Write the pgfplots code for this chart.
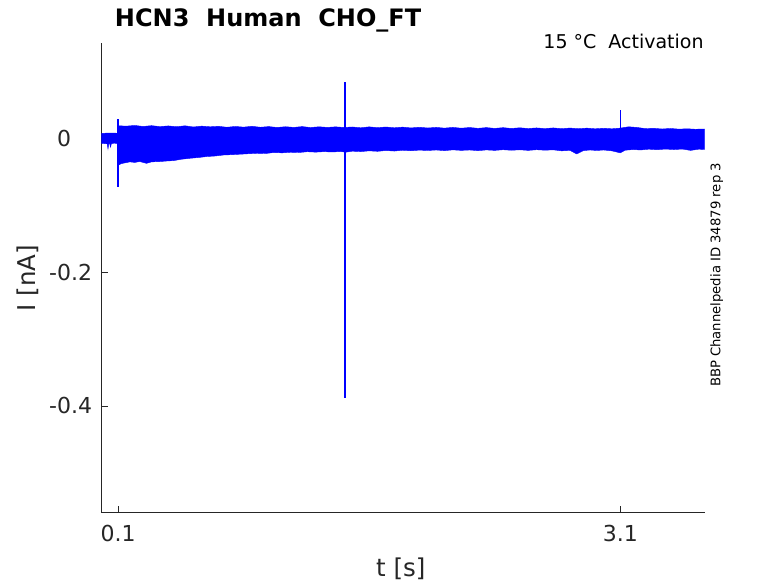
\documentclass[border=0pt]{standalone}
\usepackage{fontspec}
\setmainfont{DejaVu Sans}
\usepackage{pgfplots}
\pgfplotsset{compat=1.18}
\definecolor{axisgray}{rgb}{0.15,0.15,0.15}
\definecolor{trace}{rgb}{0,0,1}

\begin{document}
\begin{tikzpicture}
% page is 778 x 583 bp, axis frame starts at (0,0)
\useasboundingbox (-101.3bp,-70.7bp) rectangle (676.7bp,512.3bp);
\begin{axis}[
    scale only axis,
    width=603.4bp, height=469bp,
    xmin=0, xmax=3.6044,
    ymin=-0.5592, ymax=0.1424,
    axis x line*=bottom,
    axis y line*=left,
    axis line style={draw=axisgray, line width=0.6bp},
    tick style={draw=axisgray, line width=0.6bp},
    tick align=inside,
    major tick length=6.7bp,
    xtick={0.1,3.1},
    xticklabels={0.1,3.1},
    ytick={-0.4,-0.2,0},
    yticklabels={-0.4,-0.2,{0\phantom{.2}}},
    tick label style={font=\fontsize{22bp}{26bp}\selectfont, text=axisgray},
    xticklabel style={inner sep=0pt, anchor=north, yshift=-12.7bp},
    yticklabel style={inner sep=0pt, anchor=east, xshift=-9bp},
]

% noise band (upper envelope, then lower envelope back)
\addplot[draw=trace, fill=trace, line width=0.4bp] coordinates {
    (0,0.0075) (0.03,0.0080) (0.06,0.0082) (0.098,0.0078)
    (0.101,0.0190) (0.15,0.0185) (0.2,0.0195) (0.25,0.0180) (0.3,0.0192)
    (0.35,0.0178) (0.4,0.0188) (0.45,0.0176) (0.5,0.0190) (0.55,0.0172)
    (0.6,0.0185) (0.65,0.0175) (0.7,0.0182) (0.75,0.0168) (0.8,0.0180)
    (0.85,0.0170) (0.9,0.0182) (0.95,0.0168) (1.0,0.0178) (1.05,0.0165)
    (1.1,0.0176) (1.15,0.0166) (1.2,0.0178) (1.25,0.0164) (1.3,0.0175)
    (1.35,0.0166) (1.4,0.0174) (1.45,0.0165) (1.5,0.0172) (1.55,0.0160)
    (1.6,0.0174) (1.65,0.0162) (1.7,0.0172) (1.75,0.0160) (1.8,0.0170)
    (1.85,0.0158) (1.9,0.0168) (1.95,0.0157) (2.0,0.0166) (2.05,0.0155)
    (2.1,0.0166) (2.15,0.0154) (2.2,0.0164) (2.25,0.0152) (2.3,0.0163)
    (2.35,0.0151) (2.4,0.0162) (2.45,0.0150) (2.5,0.0160) (2.55,0.0149)
    (2.6,0.0158) (2.65,0.0148) (2.7,0.0158) (2.75,0.0147) (2.8,0.0156)
    (2.85,0.0146) (2.9,0.0155) (2.95,0.0145) (3.0,0.0153) (3.05,0.0145)
    (3.1,0.0155) (3.15,0.0175) (3.2,0.0165) (3.25,0.0148) (3.3,0.0152)
    (3.35,0.0142) (3.4,0.0150) (3.45,0.0140) (3.5,0.0145) (3.55,0.0138)
    (3.604,0.0142)
    (3.604,-0.0165) (3.57,-0.0160) (3.52,-0.0178) (3.47,-0.0158) (3.42,-0.0166)
    (3.37,-0.0158) (3.32,-0.0168) (3.27,-0.0160) (3.22,-0.0172) (3.18,-0.0165)
    (3.13,-0.0175) (3.1,-0.0215) (3.05,-0.0185) (3.0,-0.0172) (2.96,-0.0180)
    (2.92,-0.0172) (2.88,-0.0182) (2.84,-0.0232) (2.8,-0.0178) (2.75,-0.0185)
    (2.7,-0.0170) (2.65,-0.0175) (2.6,-0.0168) (2.55,-0.0178) (2.5,-0.0169)
    (2.45,-0.0176) (2.4,-0.0168) (2.35,-0.0178) (2.3,-0.0171) (2.25,-0.0182)
    (2.2,-0.0172) (2.15,-0.0178) (2.1,-0.0170) (2.05,-0.0182) (2.0,-0.0172)
    (1.95,-0.0180) (1.9,-0.0174) (1.85,-0.0184) (1.8,-0.0176) (1.75,-0.0188)
    (1.7,-0.0180) (1.65,-0.0192) (1.6,-0.0185) (1.55,-0.0196) (1.5,-0.0190)
    (1.46,-0.0205) (1.43,-0.0195) (1.38,-0.0202) (1.33,-0.0197) (1.28,-0.0204)
    (1.23,-0.0198) (1.18,-0.0210) (1.13,-0.0206) (1.08,-0.0215) (1.03,-0.0210)
    (0.98,-0.0225) (0.93,-0.0221) (0.88,-0.0228) (0.83,-0.0235) (0.78,-0.0242)
    (0.73,-0.0247) (0.68,-0.0262) (0.63,-0.0270) (0.58,-0.0285) (0.53,-0.0296)
    (0.48,-0.0310) (0.43,-0.0332) (0.4,-0.0335) (0.35,-0.0345) (0.3,-0.0350)
    (0.27,-0.0372) (0.23,-0.0345) (0.2,-0.0358) (0.17,-0.0350) (0.14,-0.0366)
    (0.12,-0.0375) (0.101,-0.0400)
    (0.098,-0.0075) (0.075,-0.0070) (0.06,-0.0080) (0.055,-0.0130) (0.05,-0.0080)
    (0.045,-0.0075) (0.04,-0.0157) (0.035,-0.0080) (0,-0.0072)
} -- cycle;

% spikes
\addplot[draw=trace, line width=1.3bp] coordinates {(0.1,0.0287) (0.1,-0.0726)};
\addplot[draw=trace, line width=1.5bp] coordinates {(1.455,0.0845) (1.455,-0.3882)};
\addplot[draw=trace, line width=1.3bp] coordinates {(3.102,0.0426) (3.102,0.010)};
\end{axis}

% titles and labels
\node[anchor=base west, inner sep=0pt, font=\fontsize{24bp}{28bp}\selectfont\bfseries]
    at (13.5bp,485.6bp) {HCN3\ \ Human\ \ CHO\_FT};
\node[anchor=base east, inner sep=0pt, font=\fontsize{19bp}{23bp}\selectfont]
    at (602.5bp,464bp) {15 °C\ \ Activation};
\node[anchor=base, inner sep=0pt, rotate=90, font=\fontsize{13.2bp}{15bp}\selectfont]
    at (619.1bp,237.3bp) {BBP Channelpedia ID 34879 rep 3};
\node[anchor=base, inner sep=0pt, text=axisgray, font=\fontsize{24.5bp}{28bp}\selectfont]
    at (299.5bp,-63.7bp) {t [s]};
\node[anchor=base, inner sep=0pt, rotate=90, text=axisgray, font=\fontsize{24.5bp}{28bp}\selectfont]
    at (-66bp,234bp) {I [nA]};
\end{tikzpicture}
\end{document}
